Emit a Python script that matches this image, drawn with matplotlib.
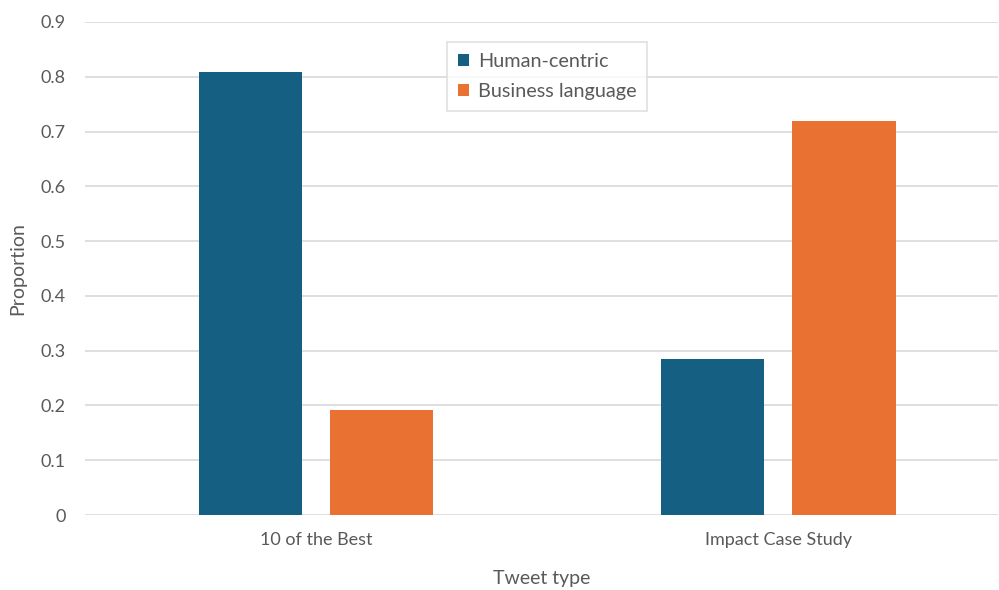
import matplotlib
matplotlib.use('Agg')
from matplotlib import pyplot as plt
import numpy as np

plt.rcParams['font.family'] = ['Lato', 'DejaVu Sans']

categories = ['10 of the Best', 'Impact Case Study']
human_centric = [0.808, 0.285]
business_language = [0.192, 0.719]
series_names = ['Human-centric', 'Business language']
yticks = [0, 0.1, 0.2, 0.3, 0.4, 0.5, 0.6, 0.7, 0.8, 0.9]
ytick_labels = ['0', '0.1', '0.2', '0.3', '0.4', '0.5', '0.6', '0.7', '0.8', '0.9']

blue = '#156082'
orange = '#E97132'
txt = '#595959'

fig = plt.figure(figsize=(9.99, 5.90), dpi=100)
ax = fig.add_axes([85/999, 1 - 515/590, 913/999, 493/590])

x = np.arange(len(categories))
w = 0.223
off = 0.1418
ax.bar(x - off, human_centric, w, color=blue, label=series_names[0], zorder=3)
ax.bar(x + off, business_language, w, color=orange, label=series_names[1], zorder=3)

ax.set_xlim(-0.5, 1.475)
ax.set_ylim(0, 0.9)
ax.set_yticks(yticks)
ax.set_yticklabels(ytick_labels)
ax.set_xticks(x)
ax.set_xticklabels(categories)
ax.grid(axis='y', color='#D9D9D9', linewidth=1.2, zorder=0)
for s in ax.spines.values():
    s.set_visible(False)
ax.tick_params(axis='both', length=0, colors=txt, labelsize=13)
ax.tick_params(axis='y', pad=14)
ax.tick_params(axis='x', pad=12)

ax.set_xlabel('Tweet type', color=txt, fontsize=14, labelpad=16)
ax.set_ylabel('Proportion', color=txt, fontsize=14, labelpad=10)

leg = ax.legend(loc='upper left', bbox_to_anchor=(0.3965, 0.959), borderaxespad=0,
                frameon=True, fancybox=False, edgecolor='#D9D9D9', fontsize=14.3,
                handlelength=0.55, handleheight=0.55, handletextpad=0.45,
                labelspacing=0.65, borderpad=0.55)
for t in leg.get_texts():
    t.set_color(txt)
leg.get_frame().set_linewidth(1.2)

fig.savefig('out.png', dpi=100)
